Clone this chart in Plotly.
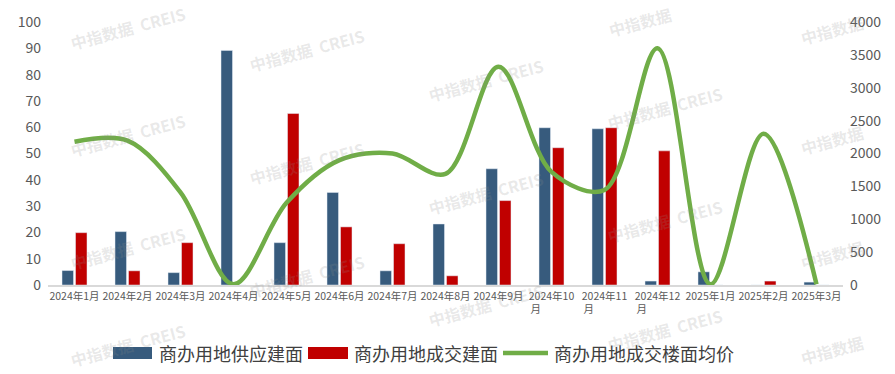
import plotly.graph_objects as go

months = ["2024年1月", "2024年2月", "2024年3月", "2024年4月", "2024年5月", "2024年6月",
          "2024年7月", "2024年8月", "2024年9月", "2024年10<br>月\u3000\u3000\u3000",
          "2024年11<br>月\u3000\u3000\u3000", "2024年12<br>月\u3000\u3000\u3000",
          "2025年1月", "2025年2月", "2025年3月"]
supply = [5.5, 20.3, 4.7, 89.2, 16.1, 35.2, 5.4, 23.2, 44.2, 59.8, 59.4, 1.5, 5.0, 0, 1.1]
deal = [19.9, 5.4, 16.1, 0, 65.2, 22.1, 15.7, 3.5, 32.1, 52.2, 59.8, 51.0, 0, 1.5, 0]
price = [2180, 2195, 1410, 10, 1250, 1900, 2000, 1690, 3320, 1720, 1445, 3600, 10, 2300, 10]

names = ["商办用地供应建面", "商办用地成交建面", "商办用地成交楼面均价"]
c_blue, c_red, c_green = "#375B7D", "#C00000", "#70AD47"

W, H = 895, 374
L, R, T, B = 48, 52, 22, 89
pw, ph = W - L - R, H - T - B
font = "Noto Sans CJK SC, Noto Sans, sans-serif"


def px(x):
    return (x - L) / pw


def py(y):
    return (H - B - y) / ph


fig = go.Figure()
fig.add_bar(x=months, y=supply, name=names[0], marker_color=c_blue, showlegend=False)
fig.add_bar(x=months, y=deal, name=names[1], marker_color=c_red, showlegend=False)
fig.add_scatter(x=months, y=price, name=names[2], yaxis="y2", mode="lines",
                line=dict(color=c_green, width=4.5, shape="spline", smoothing=0.95),
                showlegend=False, cliponaxis=False)

shapes = []
annotations = []

# watermarks (positions in pixels: x-centre, y-centre, text)
wm_full = "<b>中指数据  CREIS</b>"
wm_short = "<b>中指数据</b>"
marks = [
    (128, 28, wm_full), (128, 135, wm_full), (128, 248, wm_full), (128, 345, wm_full),
    (307, 50, wm_full), (307, 163, wm_full), (307, 276, wm_full),
    (486, 80, wm_full), (486, 193, wm_full), (486, 305, wm_full),
    (665, 108, wm_full), (665, 221, wm_full), (665, 330, wm_full),
    (640, 22, wm_short),
    (832, 30, wm_short), (832, 140, wm_short), (832, 255, wm_short), (832, 350, wm_short),
]
for cx, cy, t in marks:
    annotations.append(dict(
        x=px(cx), y=py(cy), xref="paper", yref="paper", showarrow=False,
        text=t, textangle=-15,
        font=dict(family=font, size=16, color="rgba(140,140,140,0.2)"),
        xanchor="center", yanchor="middle"))

# custom legend
ly = 353
shapes.append(dict(type="rect", xref="paper", yref="paper", x0=px(113), x1=px(152),
                   y0=py(359), y1=py(347), fillcolor=c_blue, line_width=0))
shapes.append(dict(type="rect", xref="paper", yref="paper", x0=px(308), x1=px(348),
                   y0=py(359), y1=py(347), fillcolor=c_red, line_width=0))
shapes.append(dict(type="line", xref="paper", yref="paper", x0=px(503), x1=px(548),
                   y0=py(ly), y1=py(ly), line=dict(color=c_green, width=4.5)))
for xx, t in zip([157, 352, 552], names):
    annotations.append(dict(x=px(xx), y=py(ly), xref="paper", yref="paper", showarrow=False,
                            text=t, xanchor="left", yanchor="middle",
                            font=dict(family=font, size=18, color="#404040")))

fig.update_layout(
    width=W, height=H, margin=dict(l=L, r=R, t=T, b=B, autoexpand=False),
    paper_bgcolor="white", plot_bgcolor="white",
    barmode="group", bargap=0.49, bargroupgap=0.15,
    font=dict(family=font, color="#595959"),
    hovermode=False,
    xaxis=dict(showgrid=False, showline=True, linecolor="#D9D9D9", linewidth=2,
               ticks="", tickfont=dict(size=10.5, color="#595959"), tickangle=0,
               automargin=False),
    yaxis=dict(range=[0, 100], dtick=10, showgrid=False, zeroline=False,
               tickfont=dict(size=14, color="#595959"), ticklabelstandoff=6,
               automargin=False),
    yaxis2=dict(range=[0, 4000], dtick=500, overlaying="y", side="right",
                showgrid=False, zeroline=False, automargin=False,
                tickfont=dict(size=14, color="#595959"), ticklabelstandoff=6),
    shapes=shapes, annotations=annotations,
)

fig.write_html("out.html", config={"displayModeBar": False},
               post_script="document.body.style.margin='0';document.body.style.overflow='hidden';")
